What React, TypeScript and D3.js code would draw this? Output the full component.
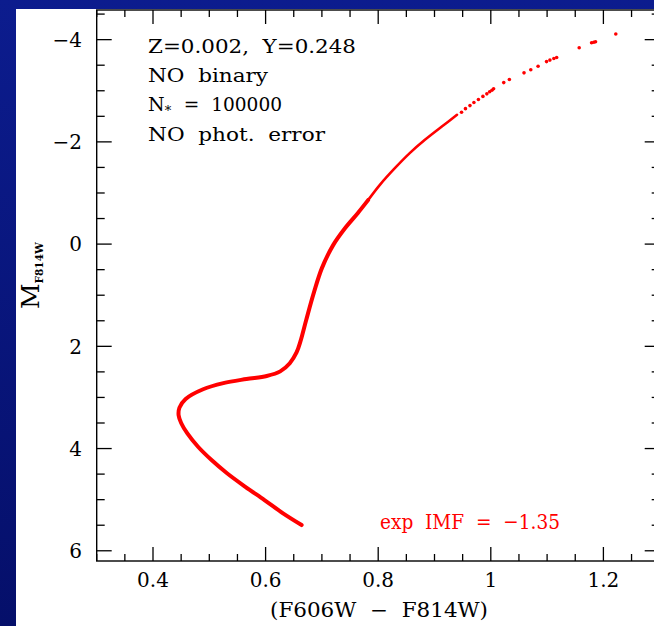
import React from "react";
import * as d3 from "d3";

// Dense part of the isochrone (F606W-F814W colour, M_F814W)
const isoColor = [0.664, 0.631, 0.598, 0.564, 0.532, 0.504, 0.48, 0.461, 0.45, 0.4455, 0.447, 0.458, 0.489, 0.525, 0.566, 0.602, 0.626, 0.643, 0.655, 0.662, 0.672, 0.686, 0.7, 0.72, 0.741, 0.764, 0.782];
const isoMag = [5.497, 5.268, 5.008, 4.748, 4.488, 4.225, 3.965, 3.705, 3.5, 3.35, 3.2, 3.03, 2.84, 2.72, 2.64, 2.58, 2.49, 2.33, 2.12, 1.9, 1.49, 0.94, 0.47, 0.02, -0.31, -0.61, -0.86];
// Upper, thinner part of the giant branch
const rgbColor = [0.782, 0.803, 0.83, 0.856, 0.883, 0.919, 0.94];
const rgbMag = [-0.86, -1.16, -1.49, -1.78, -2.04, -2.35, -2.53];
// Sparse bright stars
const dotColor = [0.948, 0.955, 0.963, 0.97, 0.978, 0.986, 0.993, 0.998, 1.002, 1.005, 1.023, 1.033, 1.059, 1.071, 1.084, 1.099, 1.105, 1.112, 1.117, 1.157, 1.179, 1.183, 1.186, 1.222];
const dotMag = [-2.58, -2.65, -2.71, -2.77, -2.83, -2.89, -2.94, -2.98, -3.01, -3.04, -3.16, -3.22, -3.35, -3.41, -3.48, -3.57, -3.6, -3.63, -3.65, -3.84, -3.94, -3.95, -3.96, -4.11];

const xTicks = [0.4, 0.6, 0.8, 1, 1.2];
const xTickLabels = ["0.4", "0.6", "0.8", "1", "1.2"];
const yTicks = [-4, -2, 0, 2, 4, 6];
const yTickLabels = ["\u22124", "\u22122", "0", "2", "4", "6"];
const annotations = ["Z=0.002,  Y=0.248", "NO  binary", "  =  100000", "NO  phot.  error"];
const imfLabel = "exp  IMF  =  \u22121.35";
const xTitle = "(F606W  \u2212  F814W)";

const W = 654;
const H = 626;
const FONT = "'DejaVu Serif', 'Liberation Serif', serif";

export default function App() {
  const x = d3.scaleLinear().domain([0.3, 1.3]).range([96.7, 659.7]);
  const y = d3.scaleLinear().domain([-4.58, 6.2]).range([10, 561]);

  const xMinor = d3.range(0.3, 1.3001, 0.05);
  const yMinor = d3.range(-4.5, 6.2, 0.5);

  const line = d3
    .line<[number, number]>()
    .x((d) => x(d[0]))
    .y((d) => y(d[1]))
    .curve(d3.curveCatmullRom.alpha(0.5));

  const isoPts = isoColor.map((c, i) => [c, isoMag[i]] as [number, number]);
  const rgbPts = rgbColor.map((c, i) => [c, rgbMag[i]] as [number, number]);

  const [x0, x1] = x.range();
  const [y0, y1] = y.range();

  const isMajorX = (v: number) => xTicks.some((t) => Math.abs(t - v) < 1e-6);
  const isMajorY = (v: number) => yTicks.some((t) => Math.abs(t - v) < 1e-6);

  const txt = {
    fontFamily: FONT,
    style: { whiteSpace: "pre" as const },
    lengthAdjust: "spacingAndGlyphs",
  };

  return (
    <svg
      width={W}
      height={H}
      style={{ position: "absolute", left: 0, top: 0, display: "block" }}
    >
      <defs>
        <linearGradient id="bg" x1="0" y1="0" x2="0" y2="1">
          <stop offset="0" stopColor="#0c1c8e" />
          <stop offset="1" stopColor="#050f6a" />
        </linearGradient>
      </defs>
      <rect x={0} y={0} width={W} height={H} fill="url(#bg)" />
      <rect x={16} y={9} width={W - 16} height={H - 9} fill="#ffffff" />

      {/* frame */}
      <rect x={x0} y={y0} width={x1 - x0} height={y1 - y0} fill="none" stroke="#000" strokeWidth={1.4} />

      {/* x ticks top & bottom */}
      {xMinor.map((v, i) => {
        const len = isMajorX(v) ? 14 : 7;
        return (
          <g key={"xt" + i} stroke="#000" strokeWidth={1.3}>
            <line x1={x(v)} x2={x(v)} y1={y1} y2={y1 - len} />
            <line x1={x(v)} x2={x(v)} y1={y0} y2={y0 + len} />
          </g>
        );
      })}
      {/* y ticks left & right */}
      {yMinor.map((v, i) => {
        const len = isMajorY(v) ? 15 : 8;
        return (
          <g key={"yt" + i} stroke="#000" strokeWidth={1.3}>
            <line x1={x0} x2={x0 + len} y1={y(v)} y2={y(v)} />
            <line x1={x1} x2={x1 - len} y1={y(v)} y2={y(v)} />
          </g>
        );
      })}

      {/* tick labels */}
      {xTicks.map((v, i) => (
        <text key={"xl" + i} x={x(v)} y={587} textAnchor="middle" fontFamily={FONT} fontSize={20} fill="#000">
          {xTickLabels[i]}
        </text>
      ))}
      {yTicks.map((v, i) => (
        <text key={"yl" + i} x={82} y={y(v)} dy="0.36em" textAnchor="end" fontFamily={FONT} fontSize={20} fill="#000">
          {yTickLabels[i]}
        </text>
      ))}

      {/* axis titles */}
      <text x={270} y={617} fontSize={20} fill="#000" textLength={218} {...txt}>
        {xTitle}
      </text>
      <text transform="translate(39,309) rotate(-90)" fontFamily={FONT} fill="#000">
        <tspan fontSize={25}>M</tspan>
        <tspan fontSize={10.5} dy={4} fontWeight="bold">F814W</tspan>
      </text>

      {/* isochrone */}
      <path d={line(isoPts) || ""} fill="none" stroke="#ff0000" strokeWidth={4} strokeLinecap="round" strokeLinejoin="round" />
      <path d={line(rgbPts) || ""} fill="none" stroke="#ff0000" strokeWidth={2.6} strokeLinecap="round" strokeLinejoin="round" />
      {dotColor.map((c, i) => (
        <circle key={"d" + i} cx={x(c)} cy={y(dotMag[i])} r={1.8} fill="#ff0000" />
      ))}

      {/* annotations */}
      <text x={148} y={53} fontSize={19} fill="#000" textLength={208} {...txt}>
        {annotations[0]}
      </text>
      <text x={148} y={82} fontSize={19} fill="#000" textLength={120} {...txt}>
        {annotations[1]}
      </text>
      <text x={148} y={111} fontFamily={FONT} fontSize={19} fill="#000">
        N
        <tspan fontSize={13} dy={4}>*</tspan>
      </text>
      <text x={172} y={111} fontSize={19} fill="#000" textLength={110} {...txt}>
        {annotations[2]}
      </text>
      <text x={148} y={141} fontSize={19} fill="#000" textLength={177} {...txt}>
        {annotations[3]}
      </text>
      <text x={380} y={529} fontSize={21} fill="#ff0000" textLength={180} {...txt}>
        {imfLabel}
      </text>
    </svg>
  );
}
